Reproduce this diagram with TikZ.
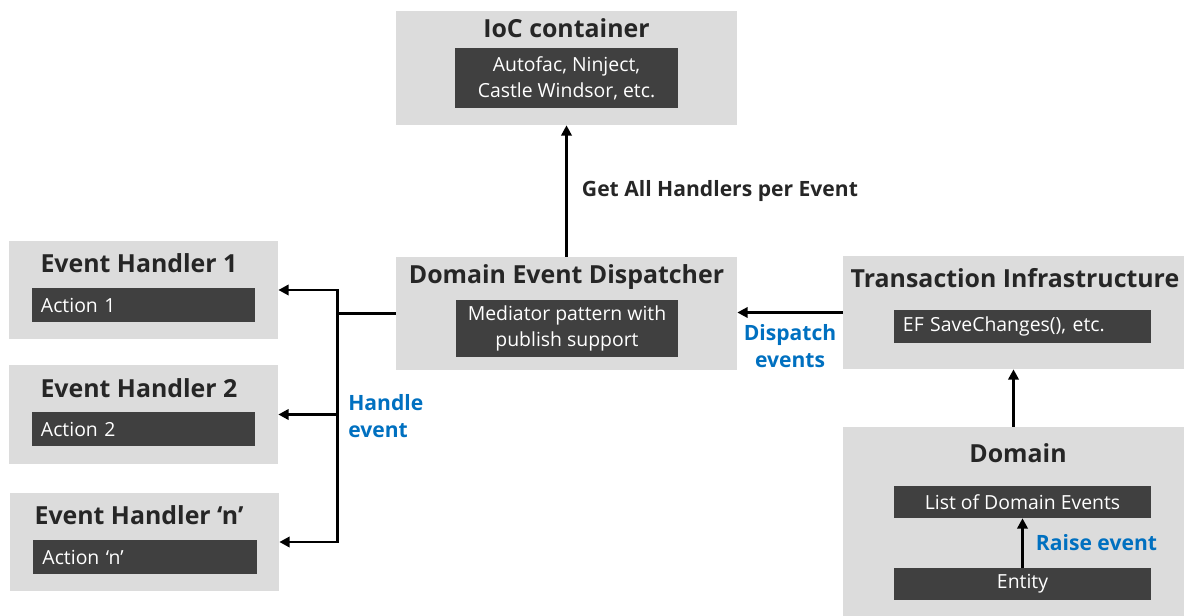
\documentclass[tikz,border=0pt]{standalone}
\usepackage{fontspec}
\setmainfont{Open Sans}
\usetikzlibrary{arrows.meta, positioning, calc}
\definecolor{boxgray}{RGB}{220,220,220}
\definecolor{darkbox}{RGB}{64,64,64}
\definecolor{titletext}{RGB}{38,38,38}
\definecolor{evblue}{RGB}{0,112,192}

\begin{document}
\begin{tikzpicture}[
    x=0.025cm, y=-0.025cm,
    outer/.style={rectangle, fill=boxgray, minimum width=8.525cm, minimum height=2.825cm, inner sep=0pt},
    handler/.style={rectangle, fill=boxgray, minimum width=6.725cm, minimum height=2.45cm, inner sep=0pt},
    title/.style={font=\fontsize{17.7}{20}\selectfont\bfseries, text=titletext, inner sep=0pt},
    inner/.style={rectangle, fill=darkbox, text=white, align=center, font=\fontsize{13.8}{18.5}\selectfont, inner sep=0pt},
    action/.style={inner, minimum width=5.575cm, minimum height=0.85cm, text width=5.125cm, align=left},
    arr/.style={-{Triangle[length=2.6mm, width=2.6mm]}, line width=2.1pt},
    lbl/.style={font=\fontsize{15}{19.5}\selectfont\bfseries, text=evblue, align=center, inner sep=0pt},
    note/.style={font=\fontsize{15}{19.5}\selectfont\bfseries, text=titletext, inner sep=0pt}
]
\useasboundingbox (0,0) rectangle (1184,616);

% IoC container
\node[outer, minimum height=2.85cm] (ioc) at (566.5,68) {};
\node[title] (iocT) at (566.5,28) {IoC container};
\node[inner, minimum width=5.575cm, minimum height=1.5cm] (iocL) at (566.5,78) {Autofac, Ninject,\\Castle Windsor, etc.};

% Dispatcher
\node[outer] (disp) at (566.5,313.5) {};
\node[title] (dispT) at (566.5,277) {Domain Event Dispatcher};
\node[inner, minimum width=5.55cm, minimum height=1.425cm] (dispL) at (567,328.5) {Mediator pattern with\\publish support};

% Transaction infrastructure
\node[outer] (trans) at (1013.5,312.5) {};
\node[title] (transT) at (1015,278) {Transaction Infrastructure};
\node[action, minimum width=6.425cm, minimum height=0.825cm, text width=5.975cm] (transL) at (1022.5,326.5) {EF SaveChanges(), etc.};

% Domain
\node[outer, minimum height=4.725cm] (dom) at (1013.5,521.5) {};
\node[title] (domT) at (1018,453) {Domain};
\node[inner, minimum width=6.425cm, minimum height=0.8cm] (evlist) at (1022.5,502) {List of Domain Events};
\node[inner, minimum width=6.425cm, minimum height=0.8cm] (entity) at (1022.5,584) {Entity};

% Event handlers
\node[handler] (h1) at (143.5,290) {};
\node[title] (h1T) at (139,263) {Event Handler 1};
\node[action] (h1L) at (143.5,305) {Action 1};

\node[handler] (h2) at (143.5,414.5) {};
\node[title] (h2T) at (139,388) {Event Handler 2};
\node[action] (h2L) at (143.5,429) {Action 2};

\node[handler] (hn) at (144.5,542) {};
\node[title] (hnT) at (139,515) {Event Handler ‘n’};
\node[action] (hnL) at (145,557) {Action ‘n’};

% Arrows
\draw[arr] (disp.north) -- (ioc.south) node[midway, right=0.35cm, note] {Get All Handlers per Event};
\draw[arr] (trans.west) -- (trans.west -| disp.east) node[midway, below=0.25cm, lbl] {Dispatch\\events};
\draw[arr] (dom.north) -- (trans.south);
\draw[arr] (entity.north) -- (evlist.south) node[midway, right=0.3cm, lbl] {Raise event};

\draw[line width=2.1pt] (disp.west) -- ++(-58,0) coordinate (bus);
\draw[arr] (bus) |- (h1.east);
\draw[arr] (bus |- h2.east) -- (h2.east);
\draw[arr] (bus) |- (hn.east);
\node[lbl, align=left, anchor=west] (handleT) at (348,416) {Handle\\event};

\end{tikzpicture}
\end{document}
